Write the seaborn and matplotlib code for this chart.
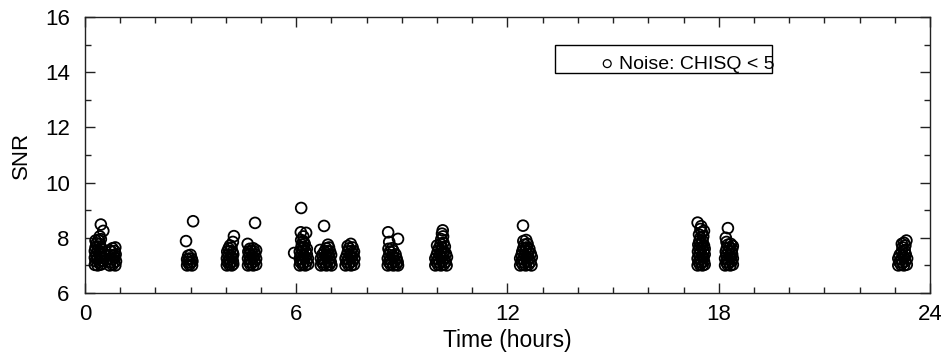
import numpy as np
import pandas as pd
import matplotlib
matplotlib.use("Agg")
import matplotlib.pyplot as plt
from matplotlib.patches import Rectangle
from matplotlib.ticker import MultipleLocator
import seaborn as sns

# ---- data (hours, SNR) ----
t_c01 = [0.28, 0.36, 0.44, 0.48, 0.30, 0.40, 0.47, 0.28, 0.35, 0.43, 0.48, 0.31, 0.39, 0.46,
         0.28, 0.36, 0.44, 0.30, 0.40, 0.47, 0.33, 0.42, 0.38, 0.45, 0.30, 0.45, 0.52, 0.42]
s_c01 = [7.02, 7.00, 7.03, 7.05, 7.15, 7.12, 7.18, 7.28, 7.25, 7.30, 7.27, 7.40, 7.42, 7.38,
         7.52, 7.55, 7.50, 7.65, 7.68, 7.62, 7.80, 7.78, 7.92, 7.95, 7.90, 8.48, 8.25, 8.05]

t_c02 = [0.70, 0.78, 0.86, 0.73, 0.82, 0.88, 0.70, 0.77, 0.85, 0.72, 0.80, 0.87, 0.75, 0.84,
         0.78, 0.86, 0.70]
s_c02 = [7.00, 7.02, 7.00, 7.12, 7.10, 7.15, 7.25, 7.22, 7.28, 7.38, 7.35, 7.40, 7.50, 7.52,
         7.62, 7.65, 7.55]

t_c03 = [2.90, 2.97, 3.04, 2.92, 3.00, 3.05, 2.90, 2.96, 3.03, 2.93, 3.00, 2.87, 3.07]
s_c03 = [7.00, 7.02, 7.00, 7.12, 7.10, 7.15, 7.22, 7.25, 7.24, 7.35, 7.38, 7.88, 8.60]

t_c04 = [4.03, 4.10, 4.17, 4.21, 4.05, 4.13, 4.20, 4.03, 4.10, 4.18, 4.06, 4.14, 4.21, 4.04,
         4.12, 4.19, 4.08, 4.16, 4.12, 4.23, 4.20]
s_c04 = [7.00, 7.02, 7.00, 7.05, 7.12, 7.10, 7.15, 7.25, 7.22, 7.28, 7.38, 7.35, 7.40, 7.50,
         7.52, 7.48, 7.62, 7.65, 7.72, 8.06, 7.85]

t_c05 = [4.63, 4.70, 4.78, 4.86, 4.66, 4.74, 4.82, 4.63, 4.70, 4.78, 4.86, 4.66, 4.74, 4.83,
         4.64, 4.72, 4.80, 4.86, 4.68, 4.78, 4.83, 4.62]
s_c05 = [7.00, 7.02, 7.00, 7.03, 7.12, 7.10, 7.15, 7.25, 7.22, 7.28, 7.24, 7.38, 7.35, 7.40,
         7.50, 7.52, 7.50, 7.55, 7.60, 7.62, 8.54, 7.78]

t_c06 = [6.10, 6.18, 6.26, 6.34, 6.12, 6.20, 6.30, 6.10, 6.17, 6.25, 6.33, 6.13, 6.21, 6.30,
         6.10, 6.18, 6.27, 6.14, 6.22, 6.30, 6.16, 6.24, 6.20, 6.14, 6.14, 6.13, 6.28, 6.20, 5.94]
s_c06 = [7.00, 7.02, 7.00, 7.05, 7.12, 7.10, 7.15, 7.25, 7.22, 7.28, 7.25, 7.38, 7.35, 7.40,
         7.50, 7.52, 7.50, 7.62, 7.65, 7.60, 7.75, 7.78, 7.88, 7.92, 9.08, 8.20, 8.18, 8.05, 7.45]

t_c07 = [6.70, 6.78, 6.86, 6.94, 7.00, 6.73, 6.82, 6.90, 6.98, 6.70, 6.78, 6.87, 6.95, 6.74,
         6.83, 6.92, 6.99, 6.80, 6.88, 6.96, 6.85, 6.93, 6.90, 6.79, 6.68]
s_c07 = [7.00, 7.02, 7.00, 7.03, 7.00, 7.12, 7.10, 7.15, 7.12, 7.25, 7.22, 7.28, 7.25, 7.38,
         7.35, 7.40, 7.38, 7.50, 7.52, 7.50, 7.62, 7.65, 7.75, 8.43, 7.56]

t_c08 = [7.40, 7.48, 7.56, 7.64, 7.43, 7.52, 7.60, 7.40, 7.48, 7.57, 7.65, 7.44, 7.53, 7.62,
         7.47, 7.56, 7.64, 7.50, 7.60, 7.46, 7.55]
s_c08 = [7.00, 7.02, 7.00, 7.03, 7.12, 7.10, 7.15, 7.25, 7.22, 7.28, 7.25, 7.38, 7.35, 7.40,
         7.50, 7.52, 7.50, 7.62, 7.65, 7.70, 7.78]

t_c09 = [8.60, 8.68, 8.76, 8.84, 8.89, 8.63, 8.72, 8.80, 8.88, 8.60, 8.68, 8.77, 8.85, 8.64,
         8.73, 8.82, 8.66, 8.76, 8.62, 8.72, 8.61, 8.89, 8.64]
s_c09 = [7.00, 7.02, 7.00, 7.03, 7.00, 7.12, 7.10, 7.15, 7.12, 7.25, 7.22, 7.28, 7.25, 7.38,
         7.35, 7.40, 7.50, 7.52, 7.60, 7.62, 8.20, 7.96, 7.85]

t_c10 = [9.95, 10.03, 10.11, 10.19, 10.27, 9.98, 10.07, 10.15, 10.24, 9.95, 10.03, 10.12, 10.20,
         10.28, 9.99, 10.08, 10.17, 10.25, 10.02, 10.11, 10.20, 10.05, 10.14, 10.22, 10.10, 10.18,
         10.12, 10.17, 10.14, 10.16, 10.00]
s_c10 = [7.00, 7.02, 7.00, 7.03, 7.00, 7.12, 7.10, 7.15, 7.12, 7.25, 7.22, 7.28, 7.25,
         7.30, 7.38, 7.35, 7.40, 7.42, 7.50, 7.52, 7.50, 7.62, 7.65, 7.68, 7.78, 7.82,
         7.95, 8.05, 8.15, 8.27, 7.72]

t_c11 = [12.36, 12.44, 12.52, 12.60, 12.68, 12.39, 12.48, 12.56, 12.65, 12.36, 12.44, 12.53,
         12.61, 12.69, 12.40, 12.49, 12.58, 12.66, 12.42, 12.51, 12.60, 12.45, 12.54, 12.62,
         12.48, 12.57, 12.45, 12.53, 12.44]
s_c11 = [7.00, 7.02, 7.00, 7.03, 7.00, 7.12, 7.10, 7.15, 7.12, 7.25, 7.22, 7.28,
         7.25, 7.30, 7.38, 7.35, 7.40, 7.42, 7.50, 7.52, 7.50, 7.62, 7.65, 7.60,
         7.75, 7.78, 7.88, 7.92, 8.44]

t_c12 = [17.40, 17.47, 17.54, 17.60, 17.43, 17.51, 17.58, 17.40, 17.48, 17.56, 17.44, 17.52,
         17.60, 17.41, 17.49, 17.57, 17.44, 17.53, 17.60, 17.42, 17.50, 17.58, 17.45, 17.54,
         17.48, 17.56, 17.44, 17.52, 17.58, 17.48, 17.40, 17.50]
s_c12 = [7.00, 7.02, 7.00, 7.03, 7.12, 7.10, 7.15, 7.25, 7.22, 7.28, 7.38, 7.35,
         7.40, 7.50, 7.52, 7.50, 7.62, 7.65, 7.60, 7.75, 7.78, 7.72, 7.88, 7.90,
         8.00, 8.05, 8.12, 8.20, 8.25, 8.32, 8.55, 8.42]

t_c13 = [18.18, 18.25, 18.33, 18.40, 18.21, 18.29, 18.37, 18.18, 18.26, 18.34, 18.40, 18.22,
         18.30, 18.38, 18.20, 18.28, 18.36, 18.23, 18.31, 18.38, 18.26, 18.34, 18.22, 18.40,
         18.26, 18.20]
s_c13 = [7.00, 7.02, 7.00, 7.03, 7.12, 7.10, 7.15, 7.25, 7.22, 7.28, 7.25, 7.38,
         7.35, 7.40, 7.50, 7.52, 7.50, 7.62, 7.65, 7.60, 7.75, 7.78, 7.85, 7.70,
         8.35, 8.00]

t_c14 = [23.10, 23.18, 23.26, 23.34, 23.13, 23.22, 23.30, 23.10, 23.18, 23.27, 23.35, 23.14,
         23.23, 23.31, 23.20, 23.28, 23.22, 23.30, 23.26, 23.33, 23.20]
s_c14 = [7.00, 7.02, 7.00, 7.03, 7.12, 7.10, 7.15, 7.25, 7.22, 7.28, 7.25, 7.38,
         7.35, 7.40, 7.50, 7.55, 7.65, 7.72, 7.82, 7.90, 7.78]

times = [t_c01, t_c02, t_c03, t_c04, t_c05, t_c06, t_c07, t_c08, t_c09, t_c10, t_c11, t_c12, t_c13, t_c14]
snrs = [s_c01, s_c02, s_c03, s_c04, s_c05, s_c06, s_c07, s_c08, s_c09, s_c10, s_c11, s_c12, s_c13, s_c14]

legend_label = "Noise: CHISQ < 5"
x_ticks = [0, 6, 12, 18, 24]
y_ticks = [6, 8, 10, 12, 14, 16]

df = pd.DataFrame({
    "Time (hours)": np.concatenate([np.array(t, float) for t in times]),
    "SNR": np.concatenate([np.array(s, float) for s in snrs]),
})

sns.set_theme(style="ticks")
plt.rcParams["font.family"] = ["Liberation Sans", "DejaVu Sans"]
plt.rcParams["text.color"] = "black"
plt.rcParams["axes.labelcolor"] = "black"
plt.rcParams["xtick.color"] = "black"
plt.rcParams["ytick.color"] = "black"

fig = plt.figure(figsize=(9.41, 3.56), dpi=100)
ax = fig.add_axes([85 / 941, 63 / 356, 845 / 941, 276 / 356])

sns.scatterplot(data=df, x="Time (hours)", y="SNR", ax=ax, marker="o",
                s=60, facecolors="none", edgecolor="black", linewidth=1.3, legend=False)

ax.set_xlim(0, 24)
ax.set_ylim(6, 16)
ax.set_xticks(x_ticks)
ax.set_yticks(y_ticks)
ax.xaxis.set_minor_locator(MultipleLocator(1))
ax.yaxis.set_minor_locator(MultipleLocator(1))
ax.tick_params(which="both", direction="in", top=True, right=True,
               color="#222222", labelcolor="black")
ax.tick_params(which="major", length=7, width=1, labelsize=16)
ax.tick_params(which="minor", length=4, width=1)
ax.tick_params(axis="x", which="major", pad=8)
ax.tick_params(axis="y", which="major", pad=11)
for sp in ax.spines.values():
    sp.set_visible(True)
    sp.set_linewidth(1.0)
    sp.set_color("#222222")

ax.set_xlabel("Time (hours)", fontsize=16.5, labelpad=3, color="black")
ax.set_ylabel("SNR", fontsize=16, labelpad=9, color="black")

# legend box
ax.add_patch(Rectangle((0.556, 0.797), 0.257, 0.102, transform=ax.transAxes,
                       facecolor="white", edgecolor="black", linewidth=1.0, zorder=4))
handle = ax.scatter([], [], s=32, facecolors="none", edgecolors="black", linewidth=0.9)
leg = ax.legend([handle], [legend_label], loc="center right",
                bbox_to_anchor=(0.816, 0.83), frameon=False, fontsize=14,
                handletextpad=0.1, borderpad=0.0, handlelength=1.0, borderaxespad=0.0)
for txt in leg.get_texts():
    txt.set_color("black")
leg.set_zorder(5)

fig.savefig("out.png", dpi=100)
